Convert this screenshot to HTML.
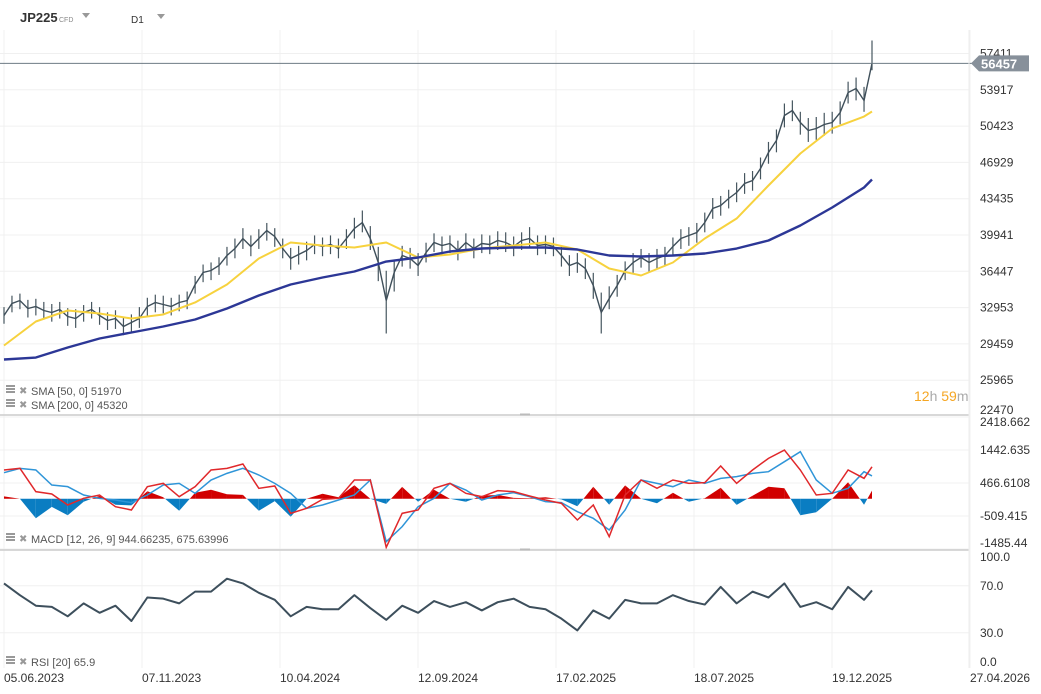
<!DOCTYPE html>
<html><head><meta charset="utf-8"><style>
html,body{margin:0;padding:0;background:#fff;}
svg{display:block;font-family:"Liberation Sans",sans-serif;}
</style></head><body>
<svg id="c" width="1041" height="694" viewBox="0 0 1041 694">
<g id="grid"></g>
<g id="marks"></g>
<g id="axes"></g>
<g>
<text x="20" y="22" font-size="13" font-weight="bold" fill="#333">JP225</text>
<text x="59" y="22" font-size="7" fill="#888">CFD</text>
<polygon points="82,13 90,13 86,18" fill="#999"/>
<text x="131" y="23" font-size="10" fill="#333">D1</text>
<polygon points="157,14 165,14 161,19" fill="#999"/>
</g>
<g font-size="11" fill="#555">
<g><rect x="6" y="385" width="9" height="2" fill="#999"/><rect x="6" y="388" width="9" height="2" fill="#999"/><rect x="6" y="391" width="9" height="2" fill="#999"/><text x="19" y="394" fill="#999" font-size="10">✖</text><text x="31" y="395">SMA [50, 0] 51970</text></g>
<g><rect x="6" y="399" width="9" height="2" fill="#999"/><rect x="6" y="402" width="9" height="2" fill="#999"/><rect x="6" y="405" width="9" height="2" fill="#999"/><text x="19" y="408" fill="#999" font-size="10">✖</text><text x="31" y="409">SMA [200, 0] 45320</text></g>
<g><rect x="6" y="533" width="9" height="2" fill="#999"/><rect x="6" y="536" width="9" height="2" fill="#999"/><rect x="6" y="539" width="9" height="2" fill="#999"/><text x="19" y="542" fill="#999" font-size="10">✖</text><text x="31" y="543">MACD [12, 26, 9] 944.66235,   675.63996</text></g>
<g><rect x="6" y="656" width="9" height="2" fill="#999"/><rect x="6" y="659" width="9" height="2" fill="#999"/><rect x="6" y="662" width="9" height="2" fill="#999"/><text x="19" y="665" fill="#999" font-size="10">✖</text><text x="31" y="666">RSI [20] 65.9</text></g>
</g>
<g font-size="14"><text x="914" y="401"><tspan fill="#f5a623">12</tspan><tspan fill="#aaa">h </tspan><tspan fill="#f5a623">59</tspan><tspan fill="#aaa">m</tspan></text></g>
</svg>
<script>
const closes=[32193,33348,33637,32867,33060,32675,32482,32771,32097,31905,
32482,32771,32193,31712,31905,31135,31519,31905,33060,33445,
33252,33060,33445,33637,35177,36332,36524,37006,37968,38642,
39604,38834,39604,40374,39797,38642,37680,38065,38450,39027,
38834,39027,38642,39604,40567,41144,39604,37294,33637,36332,
37968,37680,37006,38257,39220,38931,39123,38450,39220,38642,
39123,39027,39412,39220,38834,39412,39604,38931,39027,38834,
37968,37006,37294,36717,35081,32482,33830,35081,36524,37294,
37776,37294,37680,37968,38834,39604,39892,40183,41144,42492,
42781,43455,44032,44898,45187,46342,47882,49037,51443,51925,
50770,50000,50192,50577,50770,51732,53657,54042,52887,56457];
const highs=[33000,34100,34300,33700,33800,33500,33300,33500,32900,32800,
33200,33500,33000,32500,32700,32000,32300,33000,33900,34200,
34100,33900,34200,34500,36000,37100,37300,37800,38800,39600,
40600,39900,40500,41100,40600,39600,38700,38900,39300,39900,
39700,39900,39600,40500,41600,42300,40800,38800,36500,37400,
38900,38700,38200,39200,40100,39800,39900,39400,40100,39600,
40000,39900,40300,40200,39800,40200,40700,39900,39900,39700,
38900,38000,38200,37700,36300,34400,35000,36100,37400,38200,
38600,38200,38600,38800,39700,40500,40700,41100,42100,43500,
43700,44300,45000,45900,46100,47400,48900,50100,52600,52900,
51800,51200,51300,51700,51800,52800,54700,55100,54200,58662];
const lows=[31400,32500,32800,32000,32200,31800,31600,31900,31200,31000,
31600,31900,31300,30800,30900,30300,30500,31000,32100,32500,
32400,32200,32600,32800,34300,35400,35600,36100,37000,37700,
38600,37900,38600,39400,38800,37700,36600,37100,37500,38100,
37900,38100,37700,38600,39600,40200,38500,35500,30461,34500,
36900,36700,36000,37300,38300,38000,38200,37500,38300,37700,
38200,38100,38500,38300,37900,38500,38700,38000,38100,37900,
36900,36000,36300,35700,33800,30461,32800,34000,35600,36300,
36800,36300,36700,37000,37900,38600,38900,39200,40200,41500,
41800,42500,43100,43900,44200,45300,46800,47900,50300,50900,
49600,48900,49100,49500,49700,50600,52600,52900,51800,55800];
const sma50=[29306,31616,32675,32386,31905,32290,33445,35177,37680,39220,38931,38738,39220,37776,38065,38642,38931,39220,38546,36717,36044,37294,39604,41529,44706,47786,50192,51347,51829];
const sma200=[27958,28150,29113,29979,30557,31135,31808,32867,34118,35177,35851,36429,37390,37776,38354,38642,38738,38738,38546,37968,37872,37968,38161,38642,39412,40856,42589,44514,45283];
const macdLine=[852,901,211,142,-183,14,112,-233,-331,359,457,63,359,852,901,1029,310,379,-430,-282,-16,14,556,556,-1436,-430,-331,310,457,162,63,240,211,83,-36,-134,-627,-183,-1120,112,556,310,556,457,477,970,457,852,1197,1443,852,112,162,852,605,945];
const signalLine=[773,901,852,408,359,112,14,-36,-114,112,408,457,162,556,753,901,704,457,162,-282,-183,-36,112,556,-1268,-824,-233,14,457,260,-36,112,181,63,-85,-114,-381,-578,-923,-331,556,457,359,556,457,605,655,753,802,1098,1394,556,162,310,802,676];
const rsiValues=[72,62,53,52,44,55,47,53,40,60,59,55,65,65,76,72,64,58,44,52,50,50,62,51,41,53,47,57,52,56,49,56,59,52,50,42,32,49,42,58,55,55,62,57,54,69,55,65,60,72,52,56,50,69,58,66];
const priceTicks=[57411,53917,50423,46929,43435,39941,36447,32953,29459,25965,22470];
const macdTicks=["2418.662","1442.635","466.6108","-509.415","-1485.44"];
const macdTickVals=[2418.662,1442.635,466.6108,-509.415,-1485.44];
const rsiTicks=[100,70,30,0];
const dateLabels=["05.06.2023","07.11.2023","10.04.2024","12.09.2024","17.02.2025","18.07.2025","19.12.2025","27.04.2026"];
const lastPrice=56457;

const NS="http://www.w3.org/2000/svg";
const N=closes.length;
const xBar=i=>4+i*868/(N-1);
const yP=p=>53.5+(57411-p)/96.25;
const yM=v=>498.8-v*0.0338;
const yR=r=>668-r*1.175;
const PR=969;
function el(tag,attrs,parent){const e=document.createElementNS(NS,tag);for(const k in attrs)e.setAttribute(k,attrs[k]);parent.appendChild(e);return e;}
const grid=document.getElementById('grid'),marks=document.getElementById('marks'),axes=document.getElementById('axes');

dateLabels.forEach((d,k)=>{const x=4+k*138;
 const l=el('line',{x1:x,x2:x,y1:30,y2:668,stroke:'#f0f0f0','stroke-width':1},grid);
 
 
 const t=el('text',{x:x,y:682,'font-size':12,fill:'#333'},axes);t.textContent=d;
 
 
});
priceTicks.forEach(p=>{const y=yP(p);
 if(y<414){const l=el('line',{x1:0,x2:PR,y1:y,y2:y,stroke:'#f0f0f0'},grid);
 
 }
 const t=el('text',{x:980,y:Math.min(y+4,414),'font-size':12,fill:'#333'},axes);t.textContent=p;
 
 
});
macdTicks.forEach((s,k)=>{const y=yM(macdTickVals[k]);
 const l=el('line',{x1:0,x2:PR,y1:y,y2:y,stroke:'#f0f0f0'},grid);
 
 
 const t=el('text',{x:980,y:Math.max(426,Math.min(y+4,547)),'font-size':12,fill:'#333'},axes);t.textContent=s;
 
 
});
rsiTicks.forEach(r=>{const y=yR(r);
 if(r>0&&r<100){const l=el('line',{x1:0,x2:PR,y1:y,y2:y,stroke:'#f0f0f0'},grid);
 
 }
 const t=el('text',{x:980,y:Math.max(561,Math.min(y+4,666)),'font-size':12,fill:'#333'},axes);t.textContent=r.toFixed(1);
 
 
});
[415,550].forEach(y=>{const l=el('line',{x1:0,x2:PR,y1:y,y2:y,stroke:'#ccc','stroke-width':1.5},axes);
 
 
 const h=el('rect',{x:520,y:y-1.5,width:10,height:2,fill:'#bbb'},axes);
 
 
});
const rb=el('line',{x1:PR,x2:PR,y1:30,y2:668,stroke:'#eee'},axes);



for(let i=0;i<N;i++){const x=xBar(i);
 const b=el('line',{x1:x,x2:x,y1:yP(highs[i]),y2:yP(lows[i]),stroke:'#46565f','stroke-width':1.2},marks);
 
 
}
const cl=el('polyline',{points:closes.map((c,i)=>xBar(i)+','+yP(c)).join(' '),fill:'none',stroke:'#3f4f5a','stroke-width':1.4},marks);


function maIdx(k,len){return k===len-1?N-1:k*4;}
const s50=el('polyline',{points:sma50.map((v,k)=>xBar(maIdx(k,sma50.length))+','+yP(v)).join(' '),fill:'none',stroke:'#f7d23e','stroke-width':2,'stroke-linejoin':'round'},marks);


const s200=el('polyline',{points:sma200.map((v,k)=>xBar(maIdx(k,sma200.length))+','+yP(v)).join(' '),fill:'none',stroke:'#2c3796','stroke-width':2.4,'stroke-linejoin':'round'},marks);


const ly=yP(lastPrice);
const lp=el('line',{x1:0,x2:972,y1:ly,y2:ly,stroke:'#6e7b84','stroke-width':1},marks);


const lb=el('polygon',{points:`971,${ly} 979,${ly-8} 1029,${ly-8} 1029,${ly+8} 979,${ly+8}`,fill:'#87909a'},axes);


const lt=el('text',{x:981,y:ly+5,'font-size':13,fill:'#fff','font-weight':'bold'},axes);lt.textContent=lastPrice;



const iIdx=j=>j===macdLine.length-1?N-1:j*2;
const z=yM(0);
const HS=0.9;
for(let j=0;j<macdLine.length-1;j++){
 const x0=xBar(iIdx(j)),x1=xBar(iIdx(j+1));
 const h0=(macdLine[j]-signalLine[j])*HS,h1=(macdLine[j+1]-signalLine[j+1])*HS;
 const segs=[];
 if(h0*h1<0){const t=h0/(h0-h1),xm=x0+(x1-x0)*t;segs.push([x0,h0,xm,0,h0]);segs.push([xm,0,x1,h1,h1]);}
 else segs.push([x0,h0,x1,h1,h0+h1]);
 segs.forEach(s=>{const p=el('polygon',{points:`${s[0]},${z} ${s[0]},${yM(s[1])} ${s[2]},${yM(s[3])} ${s[2]},${z}`,fill:s[4]>=0?'#d10000':'#0a7dc2'},marks);
 
 });
}
const sg=el('polyline',{points:signalLine.map((v,j)=>xBar(iIdx(j))+','+yM(v)).join(' '),fill:'none',stroke:'#2f95d8','stroke-width':1.5},marks);


const ml=el('polyline',{points:macdLine.map((v,j)=>xBar(iIdx(j))+','+yM(v)).join(' '),fill:'none',stroke:'#e0282b','stroke-width':1.5},marks);


const rl=el('polyline',{points:rsiValues.map((v,j)=>xBar(iIdx(j))+','+yR(v)).join(' '),fill:'none',stroke:'#3d4f5c','stroke-width':2,'stroke-linejoin':'round'},marks);


</script>
</body></html>
